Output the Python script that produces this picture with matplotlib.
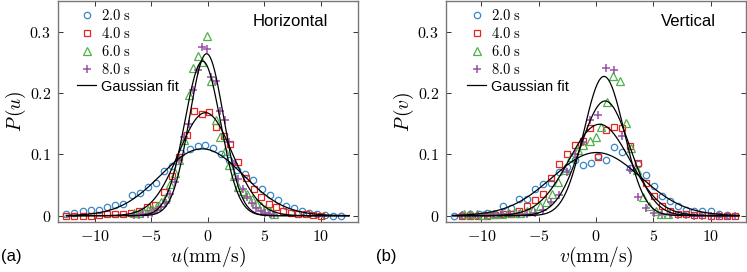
import numpy as np
import matplotlib
matplotlib.use("Agg")
import matplotlib.pyplot as plt
from matplotlib.ticker import FixedLocator, FixedFormatter

plt.rcParams['mathtext.fontset'] = 'cm'
plt.rcParams['font.family'] = ['Liberation Sans', 'DejaVu Sans']

# ---- data ----
labels = ['2.0 s', '4.0 s', '6.0 s', '8.0 s']
colors = ['#3a86c8', '#e8251f', '#4fb04a', '#9a4fa8']
markers = ['o', 's', '^', '+']

# (a) horizontal velocity u
u_x_2s = [-12.5, -11.8, -11.0, -10.3, -9.6, -8.9, -8.2, -7.5, -6.7, -6.0, -5.3, -4.6, -3.9, -3.2, -2.4, -1.6, -0.9,
          -0.2, 0.5, 1.2, 1.9, 2.6, 3.3, 4.0, 4.8, 5.5, 6.2, 6.9, 7.6, 8.3, 9.0, 9.7, 10.4, 11.1, 11.8]
u_p_2s = [0.003, 0.005, 0.008, 0.009, 0.009, 0.014, 0.017, 0.019, 0.034, 0.037, 0.046, 0.054, 0.073, 0.081, 0.102,
          0.108, 0.114, 0.115, 0.111, 0.100, 0.090, 0.074, 0.068, 0.058, 0.043, 0.033, 0.026, 0.016, 0.012, 0.007,
          0.005, 0.003, 0.001, 0.0, 0.0]
u_x_4s = [-12.5, -11.8, -11.0, -10.3, -9.6, -8.9, -8.2, -7.5, -6.8, -6.1, -5.4, -4.7, -3.9, -3.2, -2.5, -1.8, -1.2,
          -0.5, 0.1, 0.7, 1.4, 2.0, 2.7, 3.4, 4.1, 4.7, 5.4, 6.0, 6.7, 7.4, 8.0, 8.7, 9.3, 10.0]
u_p_4s = [0.0, 0.0, 0.0, 0.0, 0.001, 0.002, 0.003, 0.003, 0.005, 0.008, 0.014, 0.018, 0.039, 0.065, 0.096, 0.132,
          0.171, 0.165, 0.169, 0.144, 0.130, 0.117, 0.087, 0.061, 0.043, 0.031, 0.019, 0.014, 0.007, 0.004, 0.003,
          0.002, 0.001, 0.0]
u_x_6s = [-6.5, -6.1, -5.7, -5.3, -4.9, -4.5, -4.1, -3.7, -3.3, -2.9, -2.5, -2.1, -1.7, -1.3, -0.9, -0.5, -0.1, 0.3,
          0.7, 1.1, 1.5, 1.9, 2.3, 2.7, 3.1, 3.5, 3.9, 4.3, 4.7, 5.1, 5.5, 5.9]
u_p_6s = [0.004, 0.005, 0.007, 0.009, 0.011, 0.016, 0.022, 0.030, 0.052, 0.070, 0.091, 0.123, 0.197, 0.241, 0.260,
          0.250, 0.293, 0.220, 0.156, 0.128, 0.106, 0.082, 0.064, 0.047, 0.040, 0.035, 0.028, 0.021, 0.016, 0.011,
          0.007, 0.003]
u_x_8s = u_x_6s
u_p_8s = [0.001, 0.001, 0.002, 0.002, 0.005, 0.009, 0.014, 0.020, 0.035, 0.055, 0.090, 0.128, 0.150, 0.205, 0.238,
          0.275, 0.272, 0.226, 0.220, 0.171, 0.156, 0.120, 0.085, 0.060, 0.043, 0.030, 0.020, 0.012, 0.008, 0.004,
          0.002, 0.001]

# (b) vertical velocity v
v_x_2s = [-12.4, -11.7, -11.0, -10.2, -9.5, -8.8, -8.1, -7.4, -6.7, -6.0, -5.3, -4.6, -3.9, -3.2, -2.5, -1.8, -1.1,
          -0.4, 0.2, 0.9, 1.6, 2.3, 3.0, 3.7, 4.4, 5.1, 5.8, 6.5, 7.2, 7.9, 8.6, 9.3, 10.0, 10.7, 11.4]
v_p_2s = [0.0, 0.001, 0.002, 0.003, 0.004, 0.003, 0.016, 0.013, 0.028, 0.027, 0.043, 0.051, 0.053, 0.072, 0.080,
          0.090, 0.082, 0.086, 0.097, 0.090, 0.112, 0.104, 0.078, 0.085, 0.066, 0.048, 0.032, 0.024, 0.015, 0.010,
          0.008, 0.007, 0.007, 0.002, 0.001]
v_x_4s = [-11.7, -11.0, -10.3, -9.5, -8.8, -8.1, -7.4, -6.7, -6.0, -5.3, -4.6, -3.9, -3.2, -2.5, -1.8, -1.1, -0.5,
          0.2, 0.9, 1.6, 2.3, 3.0, 3.7, 4.4, 5.1, 5.8, 6.5, 7.2, 7.9, 8.6, 9.3, 10.0, 10.7, 11.4, 12.1]
v_p_4s = [0.0, 0.0, 0.0, 0.0, 0.001, 0.002, 0.003, 0.008, 0.016, 0.026, 0.036, 0.062, 0.084, 0.100, 0.115, 0.122,
          0.143, 0.096, 0.140, 0.144, 0.143, 0.113, 0.086, 0.054, 0.032, 0.015, 0.008, 0.003, 0.002, 0.001, 0.001,
          0.0, 0.0, 0.0, 0.0]
v_x_6s = [-11.5, -11.0, -10.4, -9.9, -9.3, -8.8, -8.2, -7.7, -7.1, -6.6, -6.0, -5.5, -4.9, -4.4, -3.8, -3.3, -2.7,
          -2.2, -1.6, -1.1, -0.5, 0.0, 0.4, 1.0, 1.5, 2.1, 2.6, 3.1, 3.6, 4.1, 4.6, 5.2, 5.7, 6.3]
v_p_6s = [0.002, 0.002, 0.002, 0.001, 0.002, 0.003, 0.002, 0.004, 0.004, 0.005, 0.007, 0.010, 0.015, 0.022, 0.036,
          0.055, 0.075, 0.095, 0.107, 0.115, 0.122, 0.128, 0.145, 0.186, 0.228, 0.219, 0.151, 0.110, 0.075, 0.031,
          0.015, 0.007, 0.003, 0.002]
v_x_8s = [-11.7, -11.0, -10.3, -9.6, -8.9, -8.2, -7.5, -6.7, -6.0, -5.3, -4.6, -3.9, -3.2, -2.5, -1.8, -1.1, -0.5,
          0.2, 0.9, 1.6, 2.3, 3.0, 3.7, 4.4, 5.1, 5.8, 6.5, 7.2, 7.9, 8.6, 9.3, 10.0, 10.7, 11.4, 12.1]
v_p_8s = [0.001, 0.001, 0.001, 0.001, 0.002, 0.002, 0.002, 0.003, 0.003, 0.004, 0.010, 0.022, 0.034, 0.072, 0.100,
          0.120, 0.156, 0.164, 0.240, 0.238, 0.130, 0.075, 0.030, 0.012, 0.005, 0.003, 0.002, 0.001, 0.001, 0.0,
          0.0, 0.0, 0.0, 0.0, 0.0]

# Gaussian fit parameters (mean, std) for each time
u_fit_mu = [-0.5, -0.2, -0.45, -0.1]
u_fit_sigma = [3.66, 2.375, 1.583, 1.511]
v_fit_mu = [0.05, 0.3, 0.8, 0.7]
v_fit_sigma = [3.873, 2.677, 2.133, 1.757]

xticks = [-10, -5, 0, 5, 10]
yticks = [0, 0.1, 0.2, 0.3]


def gauss(x, mu, s):
    return np.exp(-(x - mu) ** 2 / (2 * s ** 2)) / (np.sqrt(2 * np.pi) * s)


def draw_panel(ax, xs, ps, mus, sigmas, xlim, title, var, leg_x):
    for x, p, c, m, lab in zip(xs, ps, colors, markers, labels):
        txt = r'$%s\ \mathrm{s}$' % lab.split()[0]
        if m == '+':
            ax.plot(x, p, linestyle='none', marker=m, color=c, ms=5.5, mew=1.1, label=txt)
        elif m == '^':
            ax.plot(x, p, linestyle='none', marker=m, mfc='none', mec=c, ms=5.6, mew=0.9, label=txt)
        else:
            ax.plot(x, p, linestyle='none', marker=m, mfc='none', mec=c, ms=4.6, mew=0.9, label=txt)
    xx = np.linspace(-12.5, 12.5, 400)
    for i, (mu, s) in enumerate(zip(mus, sigmas)):
        ax.plot(xx, gauss(xx, mu, s), color='black', lw=0.9,
                label='Gaussian fit' if i == 0 else None)

    ax.set_xlim(*xlim)
    ax.set_ylim(-0.0103, 0.350)
    ax.xaxis.set_major_locator(FixedLocator(xticks))
    ax.xaxis.set_major_formatter(FixedFormatter([r'$%d$' % t for t in xticks]))
    ax.yaxis.set_major_locator(FixedLocator(yticks))
    ax.yaxis.set_major_formatter(FixedFormatter([r'$%g$' % t for t in yticks]))
    ax.tick_params(direction='in', top=True, right=True, length=3.5, width=0.7,
                   labelsize=11.5, pad=5, color='#333333')
    for sp in ax.spines.values():
        sp.set_color('#777777')
        sp.set_linewidth(1.0)

    ax.set_xlabel(r'$%s(\mathrm{mm/s})$' % var, fontsize=14, labelpad=1)
    ax.set_ylabel(r'$P\,(%s)$' % var, fontsize=14, labelpad=1)
    ax.text(0.9, 0.905, title, transform=ax.transAxes, ha='right', va='center', fontsize=12)

    leg = ax.legend(loc='upper left', bbox_to_anchor=(leg_x, 1.015), frameon=False,
                    fontsize=10.5, handlelength=1.3, handletextpad=0.35,
                    labelspacing=0.2, borderpad=0.2)
    return leg


fig = plt.figure(figsize=(7.47, 2.72), dpi=100)
ax1 = fig.add_axes([58 / 747, 50 / 272, 300 / 747, 221 / 272])
ax2 = fig.add_axes([446 / 747, 50 / 272, 300 / 747, 221 / 272])

draw_panel(ax1, [u_x_2s, u_x_4s, u_x_6s, u_x_8s], [u_p_2s, u_p_4s, u_p_6s, u_p_8s],
           u_fit_mu, u_fit_sigma, (-13.25, 13.3), 'Horizontal', 'u', 0.03)
draw_panel(ax2, [v_x_2s, v_x_4s, v_x_6s, v_x_8s], [v_p_2s, v_p_4s, v_p_6s, v_p_8s],
           v_fit_mu, v_fit_sigma, (-13.1, 13.1), 'Vertical', 'v', 0.037)

fig.text(1 / 747, 1 - 257 / 272, '(a)', ha='left', va='center', fontsize=12)
fig.text(376 / 747, 1 - 257 / 272, '(b)', ha='left', va='center', fontsize=12)

fig.savefig('out.png', dpi=100)
